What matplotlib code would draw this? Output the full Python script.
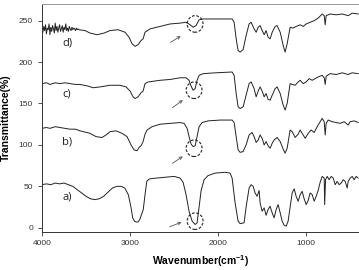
import matplotlib
matplotlib.use("Agg")
import matplotlib.pyplot as plt
from matplotlib.patches import Ellipse

# spectra: wavenumber (cm-1) and transmittance (%)
wn_a = [4000, 3950, 3900, 3850, 3800, 3750, 3700, 3650, 3600, 3550, 3500, 3450, 3400,
        3350, 3300, 3250, 3200, 3150, 3100, 3060, 3020, 2990, 2970, 2950, 2930, 2910,
        2890, 2870, 2850, 2830, 2810, 2780, 2700, 2600, 2500, 2432, 2398, 2364, 2330,
        2295, 2261, 2239, 2216, 2193, 2159, 2114, 2034, 1920, 1864, 1841, 1807, 1773,
        1750, 1705, 1682, 1648, 1625, 1602, 1580, 1557, 1534, 1523, 1500, 1477, 1455,
        1432, 1410, 1386, 1364, 1341, 1318, 1295, 1273, 1250, 1227, 1205, 1182, 1159,
        1136, 1114, 1091, 1068, 1045, 1023, 1000, 977, 955, 932, 909, 886, 864, 841,
        818, 795, 790, 780, 761, 739, 716, 693, 670, 648, 625, 602, 580, 557, 534, 523,
        500, 477, 455, 432, 409]
t_a = [52, 53, 52, 54, 53, 54, 52, 50, 46, 42, 38, 35, 34, 35, 38, 43, 48, 50, 50, 48,
       40, 25, 12, 8, 7, 7, 10, 16, 22, 40, 56, 59, 60, 61, 62, 60, 55, 40, 20, 8, 4, 6,
       25, 45, 58, 63, 66, 67, 66, 60, 30, 8, 5, 6, 25, 48, 52, 50, 42, 38, 45, 30, 20,
       24, 15, 22, 26, 18, 12, 22, 28, 18, 8, 3, 2, 8, 25, 42, 47, 38, 32, 40, 44, 35,
       28, 33, 42, 40, 32, 38, 45, 55, 62, 60, 28, 58, 62, 58, 62, 60, 52, 56, 52, 54,
       58, 56, 48, 56, 60, 62, 58, 62, 60]

wn_b = [4000, 3950, 3909, 3850, 3795, 3740, 3682, 3620, 3568, 3455, 3386, 3318, 3273,
        3227, 3159, 3091, 3034, 2989, 2955, 2920, 2898, 2875, 2852, 2830, 2807, 2750,
        2659, 2545, 2432, 2386, 2352, 2330, 2307, 2284, 2261, 2239, 2216, 2182, 2114,
        1977, 1841, 1818, 1795, 1773, 1750, 1716, 1682, 1648, 1614, 1591, 1568, 1545,
        1523, 1500, 1477, 1455, 1432, 1409, 1386, 1364, 1330, 1295, 1261, 1239, 1216,
        1182, 1159, 1125, 1091, 1068, 1034, 1011, 977, 943, 909, 875, 841, 818, 795,
        784, 773, 750, 705, 659, 614, 568, 523, 500, 455, 409]
t_b = [120, 121, 120, 122, 121, 120, 119, 119, 117, 114, 110, 109, 112, 116, 117, 114,
       110, 100, 94, 93, 97, 99, 104, 113, 118, 122, 125, 126, 127, 126, 120, 110, 101,
       98, 99, 110, 122, 127, 129, 130, 130, 127, 110, 94, 91, 92, 100, 112, 115, 110,
       103, 106, 112, 108, 100, 104, 99, 96, 102, 106, 109, 104, 95, 90, 96, 118, 116,
       109, 113, 118, 112, 108, 114, 118, 115, 122, 128, 132, 128, 112, 126, 130, 128,
       127, 126, 128, 124, 128, 129, 127]

wn_c = [4000, 3950, 3909, 3850, 3795, 3740, 3682, 3620, 3568, 3477, 3420, 3341, 3227,
        3114, 3045, 3000, 2966, 2943, 2909, 2875, 2852, 2830, 2795, 2659, 2545, 2432,
        2364, 2330, 2307, 2284, 2261, 2239, 2216, 2170, 2034, 1841, 1818, 1795, 1773,
        1750, 1716, 1682, 1648, 1625, 1591, 1568, 1545, 1523, 1500, 1477, 1455, 1432,
        1409, 1386, 1352, 1330, 1295, 1261, 1239, 1216, 1182, 1159, 1125, 1091, 1068,
        1034, 1000, 966, 932, 898, 864, 818, 795, 784, 773, 727, 659, 591, 523, 477, 409]
t_c = [174, 175, 173, 175, 174, 175, 174, 173, 173, 171, 169, 170, 172, 172, 170, 165,
       158, 156, 158, 163, 165, 174, 176, 178, 179, 181, 181, 178, 171, 166, 168, 178,
       184, 186, 187, 188, 184, 162, 146, 144, 146, 160, 174, 176, 168, 158, 165, 170,
       165, 158, 162, 155, 154, 160, 168, 170, 162, 148, 142, 150, 174, 173, 172, 176,
       178, 174, 176, 180, 178, 180, 182, 184, 181, 173, 183, 186, 185, 187, 185, 187,
       186]

wn_d = [4000, 3990, 3980, 3970, 3960, 3950, 3940, 3930, 3920, 3910, 3900, 3890, 3880,
        3870, 3860, 3850, 3840, 3830, 3820, 3810, 3800, 3790, 3780, 3770, 3760, 3750,
        3740, 3730, 3720, 3710, 3700, 3690, 3680, 3670, 3660, 3650, 3640, 3630, 3620,
        3610, 3600, 3590, 3580, 3511, 3455, 3375, 3295, 3227, 3136, 3057, 3011, 2977,
        2943, 2909, 2875, 2852, 2830, 2773, 2659, 2545, 2432, 2364, 2318, 2284, 2250,
        2216, 2170, 2034, 1841, 1818, 1795, 1773, 1750, 1716, 1682, 1648, 1625, 1591,
        1568, 1545, 1523, 1500, 1477, 1455, 1432, 1409, 1386, 1352, 1330, 1295, 1261,
        1239, 1216, 1182, 1148, 1114, 1068, 1034, 1000, 955, 909, 864, 818, 795, 784,
        773, 727, 659, 591, 523, 477, 409]
t_d = [240, 236, 243, 238, 245, 234, 241, 239, 246, 233, 242, 237, 244, 240, 235, 247,
       238, 243, 236, 241, 245, 237, 240, 244, 236, 242, 239, 246, 238, 241, 237, 243,
       240, 238, 242, 239, 241, 240, 238, 241, 239, 240, 239, 238, 235, 233, 235, 238,
       239, 236, 230, 222, 219, 221, 226, 228, 236, 240, 243, 246, 247, 248, 245, 242,
       244, 251, 252, 252, 252, 248, 228, 214, 212, 215, 232, 246, 248, 240, 236, 242,
       244, 238, 233, 238, 230, 228, 236, 243, 244, 236, 220, 212, 222, 242, 241, 243,
       245, 243, 246, 248, 250, 253, 258, 256, 245, 256, 258, 257, 258, 256, 259, 258]

labels = ["a)", "b)", "c)", "d)"]
label_y = [37, 104, 161, 223]
circle_xy = [(2261, 8), (2273, 96), (2273, 166), (2261, 246)]
arrow_from = [(2580, 0), (2545, 76), (2545, 143), (2568, 222)]
arrow_to = [(2386, 8), (2375, 88), (2375, 156), (2398, 233)]

plt.rcParams['font.family'] = ['Liberation Sans', 'DejaVu Sans']
plt.rcParams['mathtext.fontset'] = 'custom'
plt.rcParams['mathtext.rm'] = 'Liberation Sans'
plt.rcParams['mathtext.bf'] = 'Liberation Sans:bold'
fig = plt.figure(figsize=(3.59, 2.70), dpi=100)
ax = fig.add_axes([0.117, 0.141, 0.883, 0.844])

for wn, t in [(wn_a, t_a), (wn_b, t_b), (wn_c, t_c), (wn_d, t_d)]:
    ax.plot(wn, t, color='#222222', lw=0.7)

for lab, yy in zip(labels, label_y):
    ax.text(3770, yy, lab, fontsize=8, color='#222222', ha='left', va='center',
            family=['Open Sans', 'DejaVu Sans'])

for (cx, cy), p0, p1 in zip(circle_xy, arrow_from, arrow_to):
    ax.add_patch(Ellipse((cx, cy), 180, 20, fill=False, ls=(0, (2.5, 1.5)),
                         lw=0.8, color='#222222'))
    ax.annotate('', xy=p1, xytext=p0,
                arrowprops=dict(arrowstyle='->', lw=0.6, color='#555555',
                                mutation_scale=5))

ax.set_xlim(4000, 400)
ax.set_ylim(-5, 270)
ax.set_xticks([4000, 3000, 2000, 1000])
ax.set_yticks([0, 50, 100, 150, 200, 250])
ax.tick_params(labelsize=6, colors='#333333', length=3, width=0.6, direction='out')
ax.tick_params(axis='x', pad=3)
for s in ['top', 'right']:
    ax.spines[s].set_color('#999999')
for s in ['left', 'bottom']:
    ax.spines[s].set_color('#333333')
for s in ax.spines.values():
    s.set_linewidth(0.7)

ax.set_xlabel(r'Wavenumber(cm$^{\mathbf{-1}}$)', fontsize=7.5, fontweight='bold',
              labelpad=4)
ax.set_ylabel('Transmittance(%)', fontsize=7.5, fontweight='bold', labelpad=6)

fig.savefig('out.png', dpi=100)
